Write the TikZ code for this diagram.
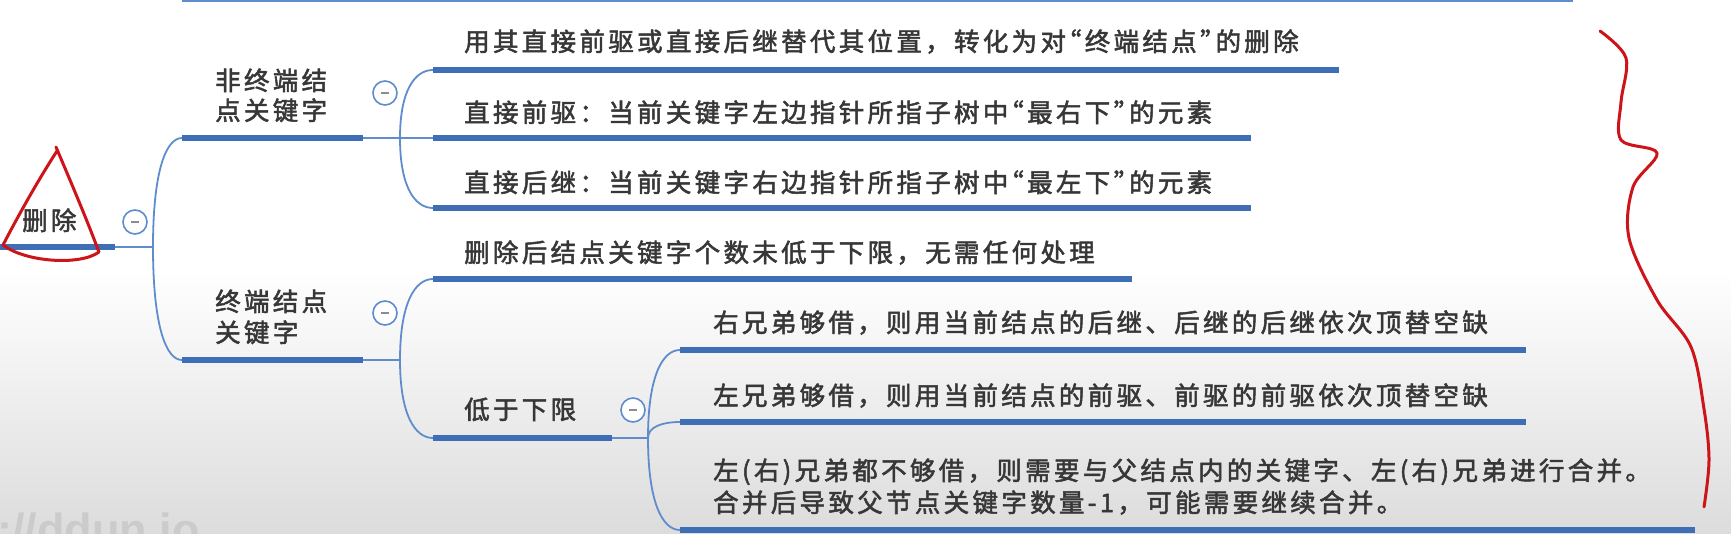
\documentclass[tikz,border=0pt]{standalone}
\usepackage{fontspec}
\newfontfamily\cjk[LetterSpace=13,FakeBold=2]{Noto Sans CJK SC}
\newfontfamily\wmfont{Liberation Sans}
\usetikzlibrary{calc}
\definecolor{thickblue}{RGB}{62,110,182}
\definecolor{thinblue}{RGB}{95,140,205}
\definecolor{txt}{RGB}{55,55,55}
\definecolor{pen}{RGB}{205,20,25}
\definecolor{bgg}{RGB}{220,220,220}
\definecolor{wm}{RGB}{203,203,203}
\newcommand\mmbranch[2]{\draw[conn] (#1) .. controls ($(#1)!0.7!(#1|-#2)$) and ($(#1|-#2)!0.45!(#2)$) .. (#2);}
\newcommand\oq{\kern-10pt“}
\newcommand\cq{”\kern-10pt}
\begin{document}
\begin{tikzpicture}[x=1pt,y=-1pt,
  topic/.style={anchor=base west, inner sep=0pt, text=txt, font=\cjk\fontsize{25.5}{30}\selectfont},
  uline/.style={draw=thickblue, line width=5.5pt},
  conn/.style={draw=thinblue, line width=1.8pt},
  collapse/.style={circle, draw=thinblue, line width=1.6pt, fill=white, minimum size=24pt, inner sep=0pt},
  minusbar/.style={draw=black!45, line width=1.4pt},
  redpen/.style={draw=pen, line width=3pt, line cap=round, line join=round},
]
\useasboundingbox (0,0) rectangle (1731,534);
\fill[white] (0,0) rectangle (1731,534);
\shade[top color=white, bottom color=bgg] (0,270) rectangle (1731,534);
\node[anchor=base west, inner sep=0pt, text=wm, font=\wmfont\bfseries\fontsize{45}{45}\selectfont] (wmark) at (-3,545) {://ddun.io};

% top line (previous item)
\coordinate (T0) at (182,0.5); \coordinate (T1) at (1573,0.5);
\draw[draw=thinblue, line width=4pt] (T0) -- (T1);

% coordinates
\coordinate (R0) at (0,247);   \coordinate (R1) at (115,247);  \coordinate (J0) at (153,247);
\coordinate (As) at (182,138); \coordinate (Ae) at (363,138);  \coordinate (J1) at (400,138);
\coordinate (Bs) at (182,360); \coordinate (Be) at (363,360);  \coordinate (J2) at (400,360);
\coordinate (A1s) at (433,70);  \coordinate (A1e) at (1339,70);
\coordinate (A2s) at (433,138); \coordinate (A2e) at (1251,138);
\coordinate (A3s) at (433,208); \coordinate (A3e) at (1251,208);
\coordinate (B1s) at (433,279); \coordinate (B1e) at (1132,279);
\coordinate (B2s) at (433,438); \coordinate (B2e) at (612,438); \coordinate (J3) at (648,438);
\coordinate (C1s) at (680,350); \coordinate (C1e) at (1526,350);
\coordinate (C2s) at (680,422); \coordinate (C2e) at (1526,422);
\coordinate (C3s) at (680,530); \coordinate (C3e) at (1695,530);

% thin connectors
\draw[conn] (R1) -- (J0);
\mmbranch{J0}{As}
\mmbranch{J0}{Bs}
\draw[conn] (Ae) -- (A2s);
\mmbranch{J1}{A1s}
\mmbranch{J1}{A3s}
\draw[conn] (Be) -- (J2);
\mmbranch{J2}{B1s}
\mmbranch{J2}{B2s}
\draw[conn] (B2e) -- (J3);
\mmbranch{J3}{C1s}
\mmbranch{J3}{C2s}
\mmbranch{J3}{C3s}

% underlines
\foreach \s/\e in {R0/R1, As/Ae, Bs/Be, A1s/A1e, A2s/A2e, A3s/A3e, B1s/B1e, B2s/B2e, C1s/C1e, C2s/C2e, C3s/C3e}
  \draw[uline] (\s) -- (\e);

% texts
\node[topic] (root) at (22,230) {删除};
\node[topic] (a1) at (215,90) {非终端结};
\node[topic] (a2) at (215,120) {点关键字};
\node[topic] (b1) at (215,311) {终端结点};
\node[topic] (b2) at (215,342) {关键字};
\node[topic] (ta1) at (464,51) {用其直接前驱或直接后继替代其位置，转化为对\oq 终端结点\cq 的删除};
\node[topic] (ta2) at (464,122) {直接前驱：当前关键字左边指针所指子树中\oq 最右下\cq 的元素};
\node[topic] (ta3) at (464,192) {直接后继：当前关键字右边指针所指子树中\oq 最左下\cq 的元素};
\node[topic] (tb1) at (464,262) {删除后结点关键字个数未低于下限，无需任何处理};
\node[topic] (tb2) at (464,419) {低于下限};
\node[topic] (tc1) at (713,332) {右兄弟够借，则用当前结点的后继、后继的后继依次顶替空缺};
\node[topic] (tc2) at (713,405) {左兄弟够借，则用当前结点的前驱、前驱的前驱依次顶替空缺};
\node[topic] (tc3a) at (713,480) {左(右)兄弟都不够借，则需要与父结点内的关键字、左(右)兄弟进行合并。};
\node[topic] (tc3b) at (713,512) {合并后导致父节点关键字数量-1，可能需要继续合并。};

% collapse buttons
\foreach \n/\p in {c0/{(135,222)}, c1/{(385,93)}, c2/{(385,313)}, c3/{(633,410)}} {
  \node[collapse] (\n) at \p {};
  \draw[minusbar] ([xshift=-4pt]\n.center) -- ([xshift=4pt]\n.center);
}

% red annotations
\draw[redpen] (57,151) .. controls (35,185) and (15,222) .. (3,245)
  .. controls (25,262) and (80,266) .. (99,252)
  .. controls (85,215) and (70,180) .. (56,147);
\draw[redpen] plot[smooth, tension=0.55] coordinates {(1600,31) (1626,58) (1621,102) (1621,140) (1657,153) (1633,187) (1629,238) (1657,300) (1691,347) (1704,409) (1709,460) (1704,507)};
\end{tikzpicture}
\end{document}
